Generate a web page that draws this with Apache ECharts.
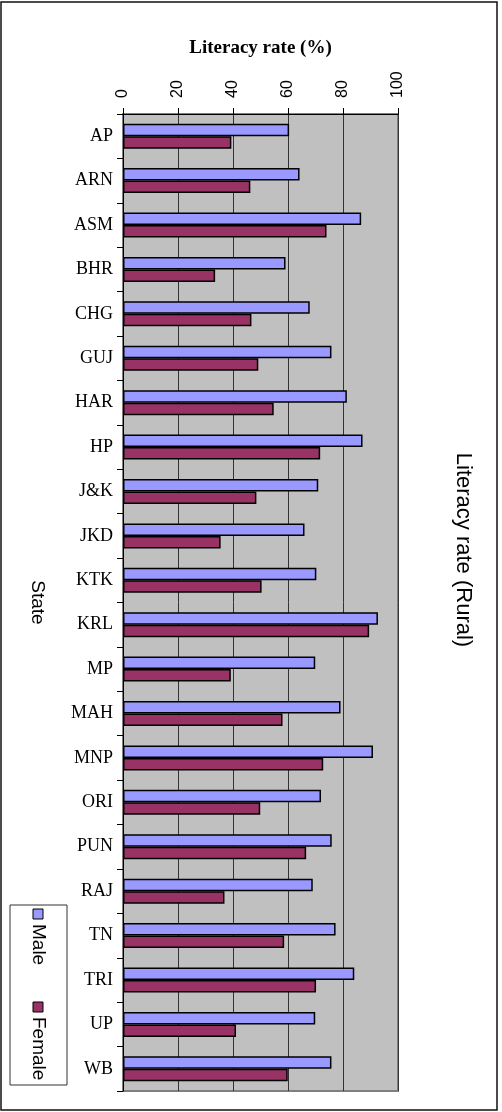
<!DOCTYPE html>
<html>
<head>
<meta charset="utf-8">
<script src="https://cdn.jsdelivr.net/npm/echarts@6/dist/echarts.min.js"></script>
<style>
  html, body { margin: 0; padding: 0; background: #fff; }
  #chart { width: 502px; height: 1112px; }
</style>
</head>
<body>
<div id="chart"></div>
<script>
// states, top to bottom
const states = ['AP', 'ARN', 'ASM', 'BHR', 'CHG', 'GUJ', 'HAR', 'HP', 'J&K', 'JKD', 'KTK',
  'KRL', 'MP', 'MAH', 'MNP', 'ORI', 'PUN', 'RAJ', 'TN', 'TRI', 'UP', 'WB'];
// rural literacy rate (%)
const male = [60.4, 64.2, 86.6, 59.1, 67.9, 75.8, 81.4, 87.1, 71.0, 66.0, 70.3,
  92.7, 69.9, 79.1, 90.9, 72.0, 75.9, 69.0, 77.3, 84.1, 69.9, 75.8];
const female = [39.4, 46.3, 74.0, 33.5, 46.7, 49.2, 54.8, 71.7, 48.5, 35.5, 50.4,
  89.5, 39.2, 58.0, 72.8, 49.9, 66.6, 36.9, 58.6, 70.2, 41.1, 59.9];
const seriesNames = ['Male', 'Female'];
const colors = ['#9999ff', '#993366'];

const chart = echarts.init(document.getElementById('chart'), null, { renderer: 'canvas' });

const option = {
  animation: false,
  backgroundColor: '#fff',
  grid: {
    left: 123, right: 104, top: 114, bottom: 21,
    show: true,
    backgroundColor: '#c0c0c0',
    borderColor: '#808080',
    borderWidth: 2
  },
  xAxis: {
    type: 'value',
    position: 'top',
    min: 0, max: 100, interval: 20,
    name: 'Literacy rate (%)',
    nameLocation: 'middle',
    nameGap: 56,
    nameTextStyle: { fontFamily: 'Liberation Serif', fontWeight: 'bold', fontSize: 19, color: '#000' },
    axisLine: { show: true, lineStyle: { color: '#000', width: 1 } },
    axisTick: { show: true, length: 6, lineStyle: { color: '#000' } },
    axisLabel: { rotate: -90, margin: 16, fontFamily: 'Liberation Sans', fontSize: 16, color: '#000' },
    splitLine: { show: true, lineStyle: { color: '#333', width: 1 } }
  },
  yAxis: {
    type: 'category',
    data: states,
    inverse: true,
    name: 'State',
    nameLocation: 'middle',
    nameRotate: -90,
    nameGap: 76,
    nameTextStyle: { fontFamily: 'Liberation Sans', fontSize: 19, color: '#000' },
    axisLine: { show: true, lineStyle: { color: '#000', width: 1 } },
    axisTick: { show: true, length: 6, lineStyle: { color: '#000' } },
    axisLabel: { margin: 10, fontFamily: 'Liberation Serif', fontSize: 18, color: '#000' },
    splitLine: { show: false }
  },
  series: [male, female].map((vals, i) => ({
    name: seriesNames[i],
    type: 'bar',
    data: vals,
    barWidth: 12.5,
    barGap: '0%',
    itemStyle: { color: colors[i], borderColor: '#000', borderWidth: 1.5 }
  })),
  graphic: [
    // outer chart frame
    { type: 'rect', shape: { x: 1, y: 2, width: 496, height: 1108 },
      style: { fill: 'none', stroke: '#111', lineWidth: 1.5 }, silent: true },
    // chart title, turned with the picture
    { type: 'text', x: 463, y: 550, rotation: -Math.PI / 2,
      style: { text: 'Literacy rate (Rural)', fontFamily: 'Liberation Sans', fontSize: 22,
        fill: '#000', textAlign: 'center', textVerticalAlign: 'middle' } },
    // legend box
    { type: 'rect', shape: { x: 10, y: 905, width: 57, height: 180 },
      style: { fill: '#fff', stroke: '#333', lineWidth: 1 } },
    { type: 'rect', shape: { x: 33, y: 909, width: 10, height: 10 },
      style: { fill: colors[0], stroke: '#000', lineWidth: 1 } },
    { type: 'text', x: 38, y: 924, rotation: -Math.PI / 2,
      style: { text: seriesNames[0], fontFamily: 'Liberation Sans', fontSize: 19,
        fill: '#000', textAlign: 'left', textVerticalAlign: 'middle' } },
    { type: 'rect', shape: { x: 33, y: 1002, width: 10, height: 10 },
      style: { fill: colors[1], stroke: '#000', lineWidth: 1 } },
    { type: 'text', x: 38, y: 1017, rotation: -Math.PI / 2,
      style: { text: seriesNames[1], fontFamily: 'Liberation Sans', fontSize: 19,
        fill: '#000', textAlign: 'left', textVerticalAlign: 'middle' } }
  ]
};

chart.setOption(option);
</script>
</body>
</html>
